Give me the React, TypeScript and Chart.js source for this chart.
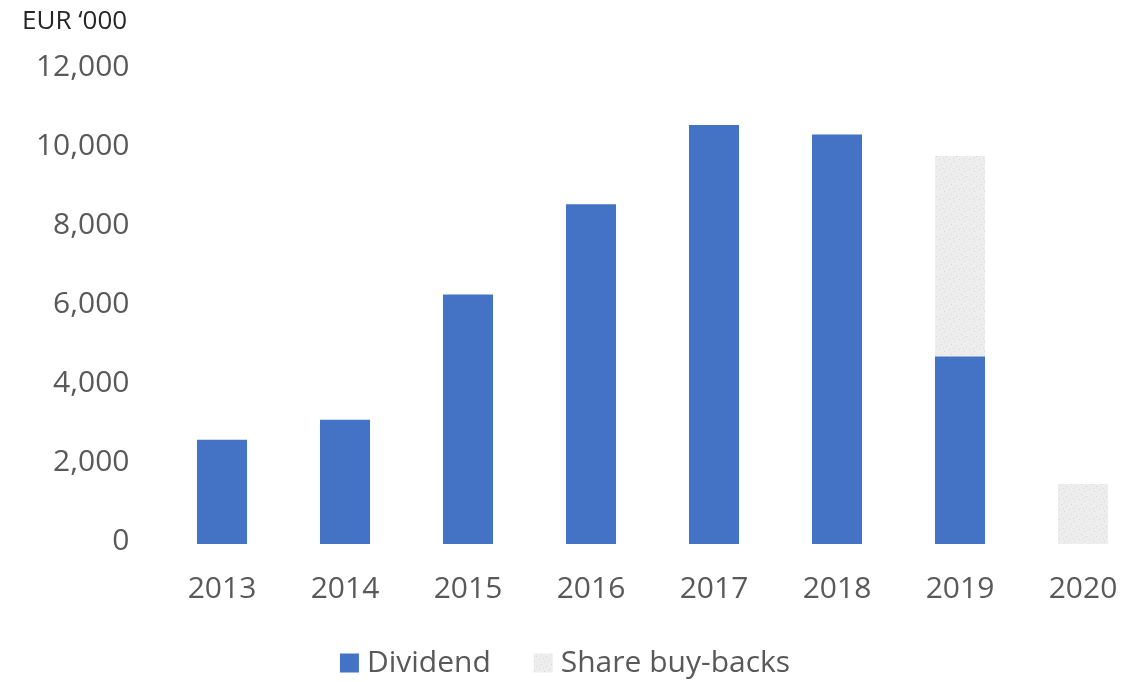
import React, { useEffect, useRef } from 'react';
import { Chart, registerables } from 'chart.js';

Chart.register(...registerables);

const years = ['2013', '2014', '2015', '2016', '2017', '2018', '2019', '2020'];
const dividend = [2640, 3150, 6320, 8610, 10620, 10380, 4750, null];
const buybacks = [null, null, null, null, null, null, 5080, 1520];
const seriesNames = ['Dividend', 'Share buy-backs'];
const unitLabel = 'EUR \u2018000';
const yMin = 0;
const yMax = 12000;
const yStep = 2000;

const FONT = '"Open Sans", "DejaVu Sans", sans-serif';
const TICK_COLOR = '#595959';
const BLUE = '#4472C4';

export default function App() {
  const ref = useRef<HTMLCanvasElement>(null);

  useEffect(() => {
    const canvas = ref.current!;
    const ctx = canvas.getContext('2d')!;

    const tile = document.createElement('canvas');
    tile.width = 10;
    tile.height = 10;
    const tctx = tile.getContext('2d')!;
    tctx.fillStyle = '#ededed';
    tctx.fillRect(0, 0, 10, 10);
    tctx.fillStyle = '#d6d6d6';
    [[1, 1], [6, 3], [3, 6], [8, 8], [5, 0]].forEach(([x, y]) => tctx.fillRect(x, y, 1, 1));
    const pattern = ctx.createPattern(tile, 'repeat')!;

    const titlePlugin = {
      id: 'unitTitle',
      afterDraw(chart: any) {
        const c = chart.ctx;
        c.save();
        c.font = `26px ${FONT}`;
        c.fillStyle = '#262626';
        c.textAlign = 'left';
        c.textBaseline = 'middle';
        c.fillText(unitLabel, 14, 14);
        c.restore();
      },
    };

    const legendPlugin = {
      id: 'customLegend',
      afterDraw(chart: any) {
        const c = chart.ctx;
        c.save();
        c.font = `30px ${FONT}`;
        const box = 19;
        const gapText = 8;
        const gapItem = 43;
        const ds = chart.data.datasets;
        const widths = ds.map((d: any) => c.measureText(d.label).width);
        let total = 0;
        widths.forEach((w: number, i: number) => {
          total += box + gapText + w + (i < widths.length - 1 ? gapItem : 0);
        });
        const cy = 655;
        let x = 557 - total / 2;
        ds.forEach((d: any, i: number) => {
          c.fillStyle = d.backgroundColor;
          c.fillRect(x, cy - box / 2, box, box);
          x += box + gapText;
          c.fillStyle = TICK_COLOR;
          c.textAlign = 'left';
          c.textBaseline = 'middle';
          c.fillText(d.label, x, cy);
          x += widths[i] + gapItem;
        });
        c.restore();
      },
    };

    const chart = new Chart(canvas, {
      type: 'bar',
      data: {
        labels: years,
        datasets: [
          {
            label: seriesNames[0],
            data: dividend,
            backgroundColor: BLUE,
            borderWidth: 0,
            categoryPercentage: 1,
            barPercentage: 0.407,
          },
          {
            label: seriesNames[1],
            data: buybacks,
            backgroundColor: pattern as any,
            borderWidth: 0,
            categoryPercentage: 1,
            barPercentage: 0.407,
          },
        ],
      },
      options: {
        responsive: false,
        animation: false,
        devicePixelRatio: 1,
        layout: { padding: { top: 62.5, right: 23.5, bottom: 48, left: 0 } },
        plugins: {
          legend: { display: false },
          tooltip: { enabled: false },
          title: { display: false },
        },
        scales: {
          x: {
            stacked: true,
            grid: { display: false, drawTicks: false },
            border: { display: false },
            ticks: {
              color: TICK_COLOR,
              font: { family: FONT, size: 30 },
              padding: 27,
              maxRotation: 0,
            },
          },
          y: {
            stacked: true,
            min: yMin,
            max: yMax,
            grid: { display: false, drawTicks: false },
            border: { display: false },
            afterFit(scale: any) {
              scale.width = 152.5;
            },
            ticks: {
              stepSize: yStep,
              color: TICK_COLOR,
              font: { family: FONT, size: 30 },
              padding: 31,
              labelOffset: -3,
              callback: (v: any) => Number(v).toLocaleString('en-US'),
            },
          },
        },
      },
      plugins: [titlePlugin, legendPlugin],
    });

    return () => chart.destroy();
  }, []);

  return (
    <div
      style={{
        position: 'fixed',
        left: 0,
        top: 0,
        width: 1126,
        height: 682,
        overflow: 'hidden',
        background: '#ffffff',
      }}
    >
      <canvas
        ref={ref}
        width={1160}
        height={674}
        style={{ display: 'block', position: 'absolute', left: 8, top: 8 }}
      />
    </div>
  );
}
